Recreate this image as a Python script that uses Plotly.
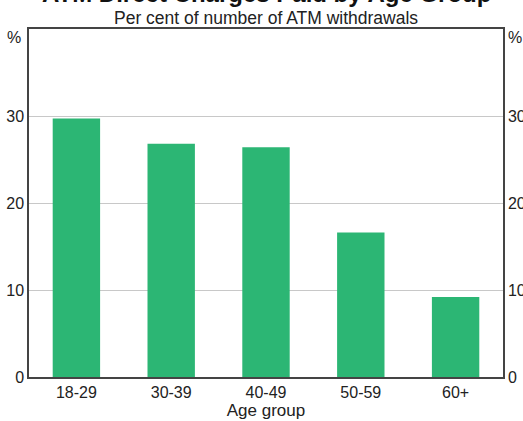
import plotly.graph_objects as go

AGE_GROUPS = ['18-29', '30-39', '40-49', '50-59', '60+']
SHARE_PAID = [29.7, 26.8, 26.4, 16.6, 9.2]
Y_TICKS = [0, 10, 20, 30]

GREEN = '#2cb674'
FONT = 'Liberation Sans, Arial, sans-serif'

traces = [
    go.Bar(
        x=AGE_GROUPS,
        y=SHARE_PAID,
        width=0.5,
        marker=dict(color=GREEN, line=dict(width=0)),
        showlegend=False,
    ),
    # invisible copy so the right-hand axis gets drawn
    go.Bar(
        x=AGE_GROUPS,
        y=SHARE_PAID,
        yaxis='y2',
        opacity=0,
        showlegend=False,
        hoverinfo='skip',
    ),
]

axis_y = dict(
    range=[0, 40],
    tickvals=Y_TICKS,
    showgrid=True,
    gridcolor='#c8c8c8',
    gridwidth=1,
    zeroline=False,
    showline=True,
    linecolor='#444444',
    linewidth=1.5,
    ticks='',
    automargin=False,
    tickfont=dict(family=FONT, size=16, color='#222222'),
)

layout = go.Layout(
    width=523,
    height=421,
    margin=dict(l=29, r=20, t=29, b=44),
    plot_bgcolor='white',
    paper_bgcolor='white',
    bargap=0.5,
    barmode='overlay',
    font=dict(family=FONT, color='#222222'),
    xaxis=dict(
        showline=True,
        linecolor='#444444',
        linewidth=1.5,
        mirror=True,
        ticks='',
        automargin=False,
        tickfont=dict(family=FONT, size=16, color='#222222'),
        title=dict(text='Age group', font=dict(size=17), standoff=2),
    ),
    yaxis=axis_y,
    yaxis2=dict(axis_y, overlaying='y', side='right', showgrid=False),
    annotations=[
        dict(text='<b>ATM Direct Charges Paid by Age Group</b>', x=0.5, y=1.0,
             xref='paper', yref='paper', xanchor='center', yanchor='bottom',
             yshift=20, showarrow=False, font=dict(size=24, color='#111111')),
        dict(text='Per cent of number of ATM withdrawals', x=0.5, y=1.0,
             xref='paper', yref='paper', xanchor='center', yanchor='bottom',
             yshift=-1, showarrow=False, font=dict(size=17.5)),
        dict(text='%', x=0, y=39, xref='paper', yref='y', xanchor='right',
             xshift=-6, showarrow=False, font=dict(size=16)),
        dict(text='%', x=1, y=39, xref='paper', yref='y', xanchor='left',
             xshift=3, showarrow=False, font=dict(size=16)),
    ],
)

fig = go.Figure(data=traces, layout=layout)
# drop the page's default body margin so the figure sits at the window's corner
fig.write_html('out.html', config={'displayModeBar': False},
               post_script="document.body.style.margin='0';")
